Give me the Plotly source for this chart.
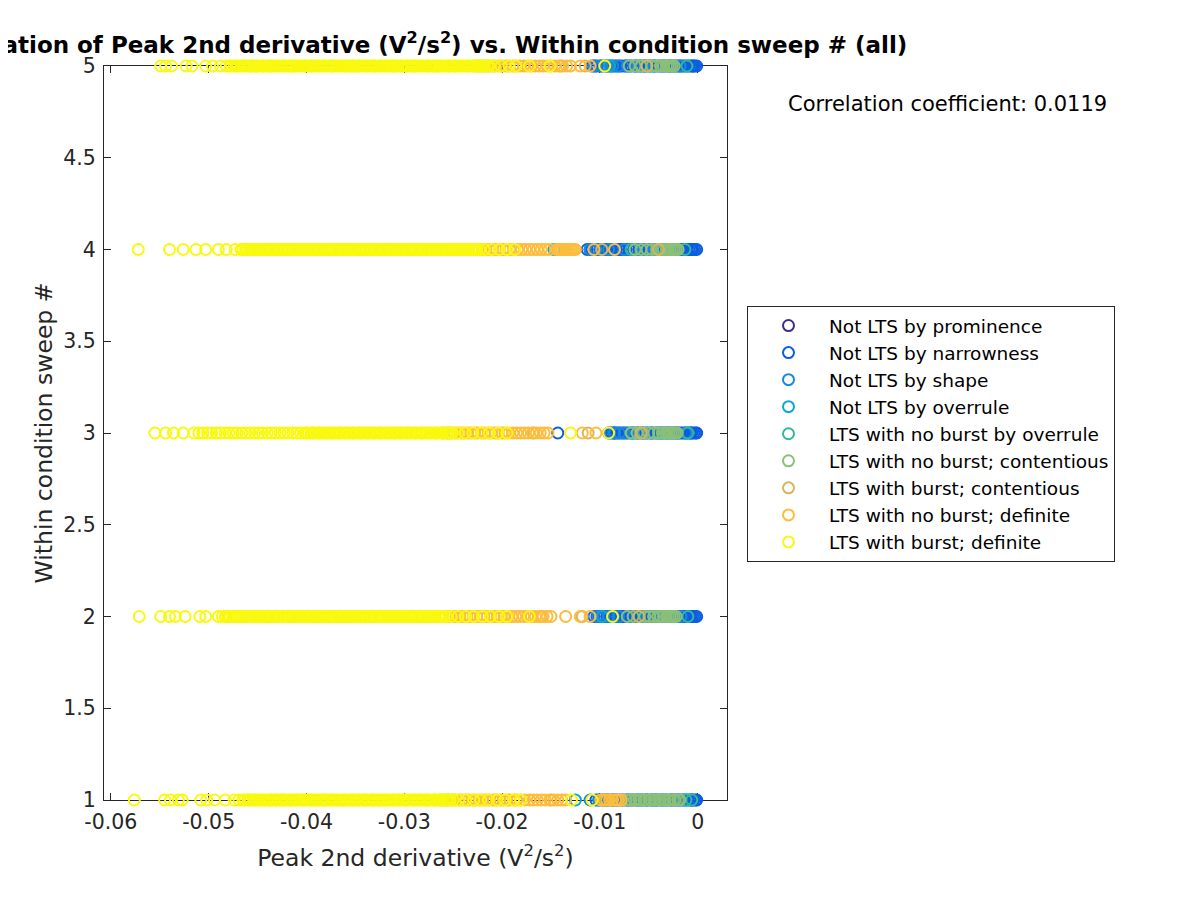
import plotly.graph_objects as go

sweep_numbers = [1, 2, 3, 4, 5]

series_names = [
    "Not LTS by prominence",
    "Not LTS by narrowness",
    "Not LTS by shape",
    "Not LTS by overrule",
    "LTS with no burst by overrule",
    "LTS with no burst; contentious",
    "LTS with burst; contentious",
    "LTS with no burst; definite",
    "LTS with burst; definite",
]
series_colors = [
    "#3c2e8e", "#0b5ee0", "#1c87dc", "#0ba9cc", "#31b89c",
    "#8ac078", "#d8b55a", "#fcbd3d", "#f9f90f",
]

# Peak 2nd derivative values (V^2/s^2), one list per sweep number 1..5
x_prominence = [
    [-0.0006],
    [-0.0007],
    [-0.0085, -0.0007],
    [-0.0006],
    [-0.0005],
]
x_narrowness = [
    [-0.0104, -0.0101, -0.0098, -0.0096, -0.0093, -0.0091, -0.0088, -0.0086, -0.0083, -0.0081, -0.0078, -0.0076, -0.0073, -0.0071, -0.0068, -0.0066, -0.0063, -0.0061, -0.0058, -0.0056, -0.0053, -0.0051, -0.0048, -0.0046, -0.0043, -0.0041, -0.0038, -0.0036, -0.0033, -0.0031, -0.0028, -0.0026, -0.0024, -0.0022, -0.0020, -0.0018, -0.0016, -0.0014, -0.0012, -0.0010, -0.0008, -0.0006, -0.0004, -0.0002, -0.0001],
    [-0.0106, -0.0103, -0.0101, -0.0098, -0.0096, -0.0093, -0.0091, -0.0089, -0.0086, -0.0084, -0.0081, -0.0079, -0.0076, -0.0074, -0.0071, -0.0069, -0.0067, -0.0064, -0.0062, -0.0059, -0.0057, -0.0054, -0.0052, -0.0049, -0.0047, -0.0045, -0.0042, -0.0040, -0.0037, -0.0035, -0.0032, -0.0030, -0.0027, -0.0025, -0.0023, -0.0021, -0.0019, -0.0017, -0.0015, -0.0013, -0.0011, -0.0009, -0.0007, -0.0005, -0.0003, -0.0001],
    [-0.0143, -0.0091, -0.0088, -0.0086, -0.0083, -0.0081, -0.0078, -0.0076, -0.0073, -0.0071, -0.0068, -0.0066, -0.0063, -0.0061, -0.0058, -0.0056, -0.0053, -0.0051, -0.0048, -0.0046, -0.0043, -0.0041, -0.0038, -0.0036, -0.0033, -0.0031, -0.0028, -0.0026, -0.0024, -0.0022, -0.0020, -0.0018, -0.0016, -0.0014, -0.0012, -0.0010, -0.0008, -0.0006, -0.0004, -0.0002, -0.0001],
    [-0.0113, -0.0110, -0.0108, -0.0105, -0.0103, -0.0100, -0.0098, -0.0095, -0.0093, -0.0090, -0.0088, -0.0085, -0.0083, -0.0080, -0.0078, -0.0075, -0.0073, -0.0070, -0.0068, -0.0065, -0.0063, -0.0060, -0.0058, -0.0055, -0.0053, -0.0050, -0.0048, -0.0045, -0.0043, -0.0040, -0.0038, -0.0035, -0.0033, -0.0030, -0.0028, -0.0025, -0.0023, -0.0021, -0.0019, -0.0017, -0.0015, -0.0013, -0.0011, -0.0009, -0.0007, -0.0005, -0.0003, -0.0001],
    [-0.0108, -0.0105, -0.0103, -0.0100, -0.0098, -0.0095, -0.0093, -0.0090, -0.0088, -0.0085, -0.0083, -0.0080, -0.0078, -0.0075, -0.0073, -0.0070, -0.0068, -0.0065, -0.0063, -0.0060, -0.0058, -0.0055, -0.0053, -0.0050, -0.0048, -0.0045, -0.0043, -0.0040, -0.0038, -0.0035, -0.0033, -0.0030, -0.0028, -0.0025, -0.0023, -0.0021, -0.0019, -0.0017, -0.0015, -0.0013, -0.0011, -0.0009, -0.0007, -0.0005, -0.0003, -0.0001],
]
x_shape = [
    [-0.0110, -0.0101, -0.0093, -0.0086, -0.0071, -0.0060, -0.0052, -0.0043, -0.0035, -0.0027, -0.0019],
    [-0.0102, -0.0096, -0.0091, -0.0086, -0.0081, -0.0071, -0.0062, -0.0054, -0.0045, -0.0036, -0.0026, -0.0017],
    [-0.0090, -0.0085, -0.0080, -0.0075, -0.0066, -0.0056, -0.0047, -0.0039, -0.0030, -0.0021, -0.0012],
    [-0.0110, -0.0104, -0.0097, -0.0091, -0.0085, -0.0075, -0.0064, -0.0055, -0.0046, -0.0038, -0.0029, -0.0020],
    [-0.0106, -0.0099, -0.0093, -0.0087, -0.0081, -0.0072, -0.0063, -0.0054, -0.0045, -0.0036, -0.0027, -0.0018],
]
x_overrule = [
    [-0.0125, -0.0046],
    [-0.0098, -0.0040],
    [-0.0061, -0.0035],
    [-0.0147, -0.0035],
    [-0.0090, -0.0030],
]
x_no_burst_overrule = [
    [-0.0012, -0.0006],
    [-0.0050, -0.0010],
    [-0.0068, -0.0010],
    [-0.0068, -0.0013],
    [-0.0058, -0.0011],
]
x_no_burst_contentious = [
    [-0.0073, -0.0070, -0.0068, -0.0065, -0.0063, -0.0060, -0.0058, -0.0055, -0.0053, -0.0050, -0.0048, -0.0045, -0.0043, -0.0040, -0.0038, -0.0035, -0.0033, -0.0030, -0.0028, -0.0025, -0.0023, -0.0020, -0.0018],
    [-0.0072, -0.0066, -0.0060, -0.0054, -0.0049, -0.0045, -0.0041, -0.0038, -0.0035, -0.0032, -0.0030, -0.0028, -0.0026, -0.0024, -0.0022],
    [-0.0068, -0.0062, -0.0056, -0.0050, -0.0045, -0.0040, -0.0036, -0.0033, -0.0031, -0.0029, -0.0027, -0.0025, -0.0023, -0.0021],
    [-0.0064, -0.0058, -0.0052, -0.0047, -0.0042, -0.0038, -0.0035, -0.0032, -0.0030, -0.0028, -0.0026, -0.0024, -0.0022, -0.0020],
    [-0.0070, -0.0064, -0.0058, -0.0052, -0.0047, -0.0042, -0.0038, -0.0035, -0.0032, -0.0030, -0.0028, -0.0026, -0.0024],
]
x_burst_contentious = [
    [-0.0150, -0.0095, -0.0082],
    [-0.0160, -0.0118, -0.0060],
    [-0.0168, -0.0112, -0.0058],
    [-0.0145, -0.0098, -0.0040],
    [-0.0140, -0.0115, -0.0052],
]
x_no_burst_definite = [
    [-0.0262, -0.0258, -0.0255, -0.0251, -0.0248, -0.0244, -0.0241, -0.0237, -0.0234, -0.0230, -0.0227, -0.0223, -0.0220, -0.0216, -0.0213, -0.0209, -0.0206, -0.0202, -0.0199, -0.0195, -0.0192, -0.0188, -0.0185, -0.0181, -0.0177, -0.0172, -0.0168, -0.0164, -0.0160, -0.0156, -0.0151, -0.0147, -0.0143, -0.0139, -0.0135, -0.0099, -0.0096, -0.0093, -0.0090, -0.0087, -0.0084, -0.0081, -0.0078],
    [-0.0268, -0.0264, -0.0261, -0.0257, -0.0254, -0.0250, -0.0247, -0.0243, -0.0240, -0.0236, -0.0233, -0.0229, -0.0226, -0.0222, -0.0219, -0.0215, -0.0212, -0.0208, -0.0205, -0.0201, -0.0198, -0.0194, -0.0190, -0.0186, -0.0182, -0.0178, -0.0174, -0.0170, -0.0166, -0.0162, -0.0158, -0.0154, -0.0150, -0.0135, -0.0120, -0.0110],
    [-0.0260, -0.0256, -0.0253, -0.0249, -0.0246, -0.0242, -0.0239, -0.0235, -0.0232, -0.0228, -0.0225, -0.0221, -0.0218, -0.0214, -0.0211, -0.0207, -0.0204, -0.0200, -0.0197, -0.0193, -0.0189, -0.0185, -0.0181, -0.0177, -0.0173, -0.0169, -0.0165, -0.0161, -0.0157, -0.0153, -0.0118, -0.0104],
    [-0.0238, -0.0234, -0.0231, -0.0227, -0.0224, -0.0220, -0.0217, -0.0213, -0.0210, -0.0206, -0.0203, -0.0199, -0.0196, -0.0192, -0.0188, -0.0184, -0.0180, -0.0176, -0.0172, -0.0168, -0.0164, -0.0160, -0.0156, -0.0152, -0.0143, -0.0141, -0.0139, -0.0137, -0.0135, -0.0133, -0.0131, -0.0129, -0.0127, -0.0125, -0.0106, -0.0085],
    [-0.0228, -0.0224, -0.0221, -0.0217, -0.0214, -0.0210, -0.0207, -0.0203, -0.0200, -0.0196, -0.0193, -0.0189, -0.0186, -0.0182, -0.0178, -0.0174, -0.0170, -0.0166, -0.0162, -0.0158, -0.0154, -0.0150, -0.0146, -0.0142, -0.0138, -0.0134, -0.0130, -0.0120, -0.0110],
]
x_burst_definite = [
    [-0.0576, -0.0545, -0.0539, -0.0531, -0.0527, -0.0508, -0.0502, -0.0494, -0.0483, -0.0474, -0.0469,
     -0.0465, -0.0463, -0.0460, -0.0458, -0.0457, -0.0454, -0.0452, -0.0450, -0.0447, -0.0446, -0.0444, -0.0442, -0.0439, -0.0437, -0.0436, -0.0433, -0.0431, -0.0429, -0.0426, -0.0425, -0.0423, -0.0421, -0.0418, -0.0416, -0.0415, -0.0412, -0.0410, -0.0408, -0.0405, -0.0404, -0.0402, -0.0400, -0.0397, -0.0395, -0.0394, -0.0391, -0.0389, -0.0387, -0.0384, -0.0383, -0.0381, -0.0379, -0.0376, -0.0374, -0.0373, -0.0370, -0.0368, -0.0366, -0.0363, -0.0362, -0.0360, -0.0358, -0.0355, -0.0353, -0.0352, -0.0349, -0.0347, -0.0345, -0.0342, -0.0341, -0.0339, -0.0337, -0.0334, -0.0332, -0.0331, -0.0328, -0.0326, -0.0324, -0.0321, -0.0320, -0.0318, -0.0316, -0.0313, -0.0311, -0.0310, -0.0307, -0.0305, -0.0303, -0.0300, -0.0299, -0.0297, -0.0295, -0.0292, -0.0290, -0.0289, -0.0286, -0.0284, -0.0282, -0.0279, -0.0278, -0.0276, -0.0274, -0.0271, -0.0269, -0.0268, -0.0265, -0.0263, -0.0261, -0.0258, -0.0257, -0.0255, -0.0253, -0.0250,
     -0.0244, -0.0237, -0.0229, -0.0222, -0.0214, -0.0205, -0.0197, -0.0188, -0.0181, -0.0129, -0.0108],
    [-0.0571, -0.0549, -0.0540, -0.0534, -0.0524, -0.0509, -0.0503, -0.0490,
     -0.0486, -0.0483, -0.0482, -0.0480, -0.0478, -0.0475, -0.0473, -0.0472, -0.0470, -0.0467, -0.0465, -0.0462, -0.0461, -0.0459, -0.0457, -0.0454, -0.0452, -0.0451, -0.0449, -0.0446, -0.0444, -0.0441, -0.0440, -0.0438, -0.0436, -0.0433, -0.0431, -0.0430, -0.0428, -0.0425, -0.0423, -0.0420, -0.0419, -0.0417, -0.0415, -0.0412, -0.0410, -0.0409, -0.0407, -0.0404, -0.0402, -0.0399, -0.0398, -0.0396, -0.0394, -0.0391, -0.0389, -0.0388, -0.0386, -0.0383, -0.0381, -0.0378, -0.0377, -0.0375, -0.0373, -0.0370, -0.0368, -0.0367, -0.0365, -0.0362, -0.0360, -0.0357, -0.0356, -0.0354, -0.0352, -0.0349, -0.0347, -0.0346, -0.0344, -0.0341, -0.0339, -0.0336, -0.0335, -0.0333, -0.0331, -0.0328, -0.0326, -0.0325, -0.0323, -0.0320, -0.0318, -0.0315, -0.0314, -0.0312, -0.0310, -0.0307, -0.0305, -0.0304, -0.0302, -0.0299, -0.0297, -0.0294, -0.0293, -0.0291, -0.0289, -0.0286, -0.0284, -0.0283, -0.0281, -0.0278, -0.0276, -0.0273, -0.0272, -0.0270, -0.0268, -0.0265, -0.0263, -0.0262, -0.0260, -0.0257,
     -0.0252, -0.0245, -0.0237, -0.0229, -0.0220, -0.0212, -0.0203, -0.0195, -0.0172, -0.0087],
    [-0.0555, -0.0544, -0.0536, -0.0526,
     -0.0515, -0.0510, -0.0506, -0.0501, -0.0497, -0.0492, -0.0488, -0.0483, -0.0479, -0.0475, -0.0471, -0.0466, -0.0462, -0.0458, -0.0453, -0.0449, -0.0445, -0.0440, -0.0436, -0.0432, -0.0427, -0.0423, -0.0419, -0.0414, -0.0410, -0.0406,
     -0.0402, -0.0400, -0.0398, -0.0395, -0.0394, -0.0392, -0.0389, -0.0387, -0.0386, -0.0383, -0.0381, -0.0379, -0.0377, -0.0374, -0.0373, -0.0371, -0.0368, -0.0366, -0.0365, -0.0362, -0.0360, -0.0358, -0.0356, -0.0353, -0.0352, -0.0350, -0.0347, -0.0345, -0.0344, -0.0341, -0.0339, -0.0337, -0.0335, -0.0332, -0.0331, -0.0329, -0.0326, -0.0324, -0.0323, -0.0320, -0.0318, -0.0316, -0.0314, -0.0311, -0.0310, -0.0308, -0.0305, -0.0303, -0.0302, -0.0299, -0.0297, -0.0295, -0.0293, -0.0290, -0.0289, -0.0287, -0.0284, -0.0282, -0.0281, -0.0278, -0.0276, -0.0274, -0.0272, -0.0269, -0.0268, -0.0266, -0.0263, -0.0261, -0.0260, -0.0257, -0.0255, -0.0253, -0.0251,
     -0.0245, -0.0238, -0.0230, -0.0221, -0.0213, -0.0204, -0.0195, -0.0130, -0.0091],
    [-0.0572, -0.0540, -0.0526, -0.0513, -0.0503, -0.0490, -0.0482, -0.0473,
     -0.0467, -0.0465, -0.0462, -0.0461, -0.0459, -0.0457, -0.0454, -0.0452, -0.0451, -0.0449, -0.0446, -0.0444, -0.0441, -0.0440, -0.0438, -0.0436, -0.0433, -0.0431, -0.0430, -0.0428, -0.0425, -0.0423, -0.0420, -0.0419, -0.0417, -0.0415, -0.0412, -0.0410, -0.0409, -0.0407, -0.0404, -0.0402, -0.0399, -0.0398, -0.0396, -0.0394, -0.0391, -0.0389, -0.0388, -0.0386, -0.0383, -0.0381, -0.0378, -0.0377, -0.0375, -0.0373, -0.0370, -0.0368, -0.0367, -0.0365, -0.0362, -0.0360, -0.0357, -0.0356, -0.0354, -0.0352, -0.0349, -0.0347, -0.0346, -0.0344, -0.0341, -0.0339, -0.0336, -0.0335, -0.0333, -0.0331, -0.0328, -0.0326, -0.0325, -0.0323, -0.0320, -0.0318, -0.0315, -0.0314, -0.0312, -0.0310, -0.0307, -0.0305, -0.0304, -0.0302, -0.0299, -0.0297, -0.0294, -0.0293, -0.0291, -0.0289, -0.0286, -0.0284, -0.0283, -0.0281, -0.0278, -0.0276, -0.0273, -0.0272, -0.0270, -0.0268, -0.0265, -0.0263, -0.0262, -0.0260, -0.0257, -0.0255, -0.0252, -0.0251, -0.0249, -0.0247, -0.0244, -0.0242, -0.0241, -0.0239, -0.0236, -0.0234, -0.0231, -0.0230, -0.0228, -0.0226, -0.0223,
     -0.0218, -0.0211, -0.0203, -0.0195, -0.0187],
    [-0.0549, -0.0544, -0.0538, -0.0523, -0.0517, -0.0503, -0.0496, -0.0488, -0.0482,
     -0.0478, -0.0477, -0.0474, -0.0472, -0.0470, -0.0467, -0.0465, -0.0464, -0.0461, -0.0459, -0.0457, -0.0456, -0.0453, -0.0451, -0.0449, -0.0446, -0.0444, -0.0443, -0.0440, -0.0438, -0.0436, -0.0435, -0.0432, -0.0430, -0.0428, -0.0425, -0.0423, -0.0422, -0.0419, -0.0417, -0.0415, -0.0414, -0.0411, -0.0409, -0.0407, -0.0404, -0.0402, -0.0401, -0.0398, -0.0396, -0.0394, -0.0393, -0.0390, -0.0388, -0.0386, -0.0383, -0.0381, -0.0380, -0.0377, -0.0375, -0.0373, -0.0372, -0.0369, -0.0367, -0.0365, -0.0362, -0.0360, -0.0359, -0.0356, -0.0354, -0.0352, -0.0351, -0.0348, -0.0346, -0.0344, -0.0341, -0.0339, -0.0338, -0.0335, -0.0333, -0.0331, -0.0330, -0.0327, -0.0325, -0.0323, -0.0320, -0.0318, -0.0317, -0.0314, -0.0312, -0.0310, -0.0309, -0.0306, -0.0304, -0.0302, -0.0299, -0.0297, -0.0296, -0.0293, -0.0291, -0.0289, -0.0288, -0.0285, -0.0283, -0.0281, -0.0278, -0.0276, -0.0275, -0.0272, -0.0270, -0.0268, -0.0267, -0.0264, -0.0262, -0.0260, -0.0257, -0.0255, -0.0254, -0.0251, -0.0249, -0.0247, -0.0246, -0.0243, -0.0241, -0.0239, -0.0236, -0.0234, -0.0233, -0.0230, -0.0228, -0.0226, -0.0225, -0.0222, -0.0220, -0.0218, -0.0215, -0.0213,
     -0.0208, -0.0201, -0.0193, -0.0186, -0.0172, -0.0151, -0.0095],
]

series_x = [
    x_prominence, x_narrowness, x_shape, x_overrule, x_no_burst_overrule,
    x_no_burst_contentious, x_burst_contentious, x_no_burst_definite, x_burst_definite,
]

x_tick_values = [-0.06, -0.05, -0.04, -0.03, -0.02, -0.01, 0]
x_tick_labels = ["-0.06", "-0.05", "-0.04", "-0.03", "-0.02", "-0.01", "0"]
y_tick_values = [1, 1.5, 2, 2.5, 3, 3.5, 4, 4.5, 5]
y_tick_labels = ["1", "1.5", "2", "2.5", "3", "3.5", "4", "4.5", "5"]
correlation_coefficient = 0.0119

fig = go.Figure()
for name, color, rows in zip(series_names, series_colors, series_x):
    xs, ys = [], []
    for sweep, vals in zip(sweep_numbers, rows):
        xs.extend(vals)
        ys.extend([sweep] * len(vals))
    fig.add_trace(go.Scatter(
        x=xs, y=ys, mode="markers", name=name, cliponaxis=False,
        marker=dict(symbol="circle-open", size=11, color=color,
                    line=dict(width=2, color=color)),
    ))

axis_common = dict(
    ticks="inside", ticklen=7, tickcolor="#262626", tickwidth=1,
    showline=True, linecolor="#262626", linewidth=1, mirror="allticks",
    showgrid=False, zeroline=False, layer="below traces",
    ticklabelstandoff=3,
    tickfont=dict(size=20.5, color="#262626", family="DejaVu Sans"),
)

fig.update_layout(
    width=1200, height=900,
    paper_bgcolor="white", plot_bgcolor="white",
    margin=dict(l=96, r=481, t=58, b=108, autoexpand=False),
    font=dict(family="DejaVu Sans", color="#262626"),
    title=dict(
        text="<b>Correlation of Peak 2nd derivative (V<sup>2</sup>/s<sup>2</sup>) vs. Within condition sweep # (all)</b>",
        x=0.5, xref="paper", xanchor="center",
        y=1 - 37 / 900, yref="container", yanchor="middle",
        font=dict(size=23, color="black", family="DejaVu Sans"),
    ),
    xaxis=dict(
        range=[-0.0607, 0.0030], tickvals=x_tick_values, ticktext=x_tick_labels,
        title=dict(text="Peak 2nd derivative (V<sup>2</sup>/s<sup>2</sup>)",
                   font=dict(size=23.5, color="#262626"), standoff=16),
        **axis_common,
    ),
    yaxis=dict(
        range=[1, 5], tickvals=y_tick_values, ticktext=y_tick_labels,
        title=dict(text="Within condition sweep #",
                   font=dict(size=23.5, color="#262626"), standoff=4),
        **axis_common,
    ),
    legend=dict(
        x=1.0321, y=0.673, xanchor="left", yanchor="top",
        bordercolor="#262626", borderwidth=1, bgcolor="white",
        itemwidth=71,
        font=dict(size=18.5, color="black", family="DejaVu Sans"),
    ),
    annotations=[dict(
        text=f"Correlation coefficient: {correlation_coefficient}",
        x=1.3547, y=0.948, xref="paper", yref="paper",
        xanchor="center", yanchor="middle", showarrow=False,
        font=dict(size=21, color="black", family="DejaVu Sans"),
    )],
)

fig.write_html("out.html")
